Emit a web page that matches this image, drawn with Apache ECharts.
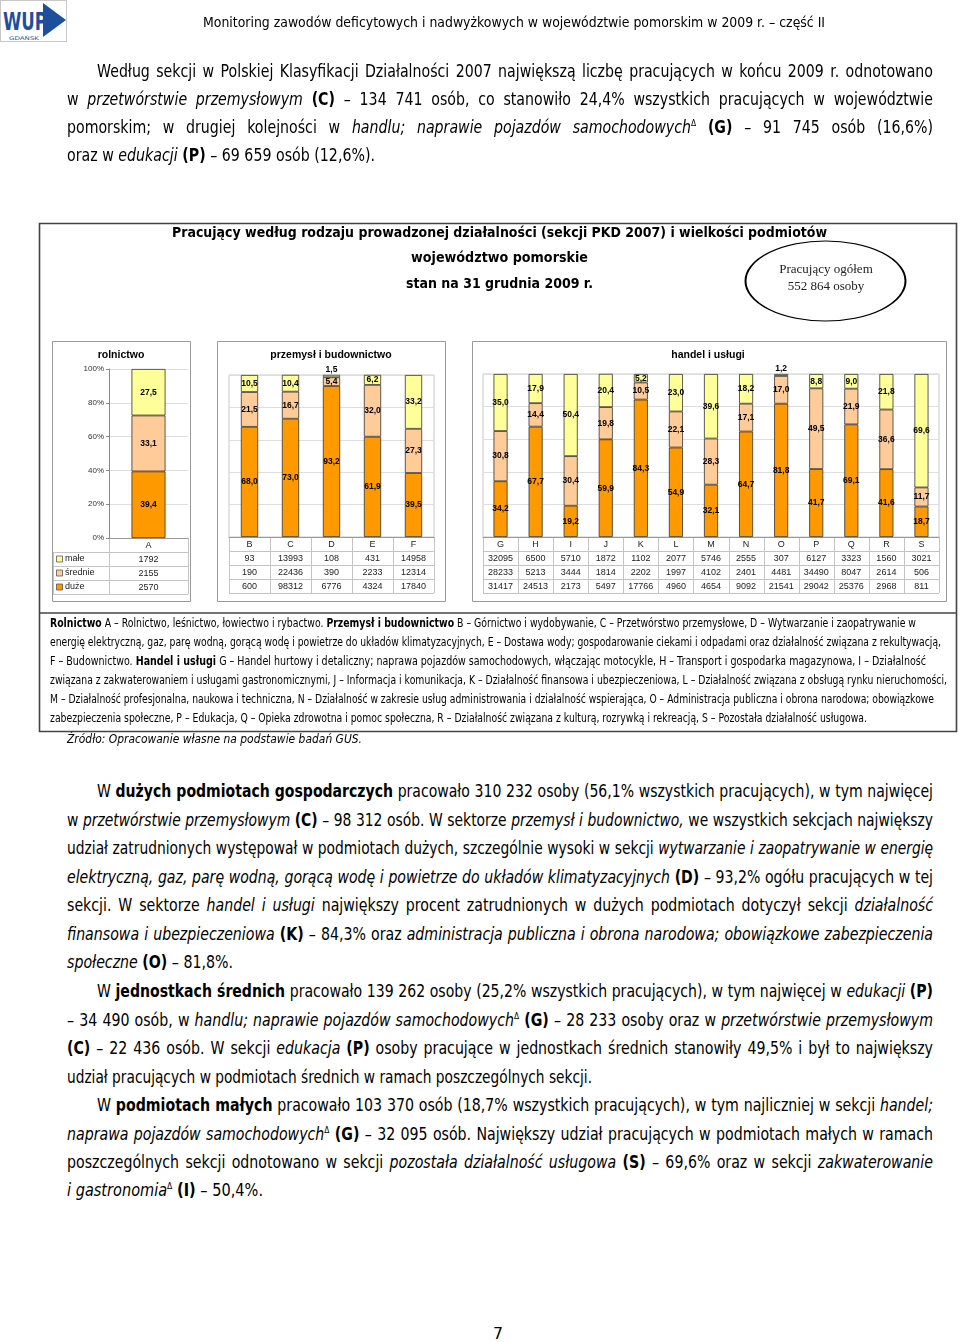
<!DOCTYPE html>
<html><head><meta charset="utf-8">
<script src="https://cdn.jsdelivr.net/npm/echarts@6/dist/echarts.min.js"></script>
<style>
body{margin:0;background:#fff;}
#page{position:relative;width:960px;height:1342px;overflow:hidden;background:#fff;}
.ln{position:absolute;white-space:nowrap;font-family:'DejaVu Sans',sans-serif;color:#000;transform-origin:0 50%;display:inline-block;}
.ln sup{font-size:9px;line-height:0;}
#chart{position:absolute;left:0;top:0;width:960px;height:760px;}
</style></head>
<body><div id="page">
<svg style="position:absolute;left:0;top:0" width="68" height="43">
<rect x="0.5" y="0.5" width="66" height="41" fill="#fff" stroke="#c8c8c8"/>
<polygon points="43,3 66,20 43,37" fill="#1e4f9e"/>
<text x="3" y="30" font-family="DejaVu Sans" font-weight="bold" font-size="24" fill="#1e4f9e" textLength="44" lengthAdjust="spacingAndGlyphs">WUP</text>
<text x="9" y="40" font-family="DejaVu Sans" font-size="5" fill="#1e4f9e" textLength="30" lengthAdjust="spacingAndGlyphs">GDAŃSK</text>
</svg>
<div id="chart"></div>
</div>
<script>
// ---------- DATA ----------
const sizeNames = ['małe', 'średnie', 'duże'];
const yTicks = [0, 20, 40, 60, 80, 100];

const sectorsRol = ['A'];
const maleRol = [27.5];
const sredRol = [33.1];
const duzeRol = [39.4];
const nMaleRol = [1792];
const nSredRol = [2155];
const nDuzeRol = [2570];

const sectorsPrz = ['B', 'C', 'D', 'E', 'F'];
const malePrz = [10.5, 10.4, 1.5, 6.2, 33.2];
const sredPrz = [21.5, 16.7, 5.4, 32.0, 27.3];
const duzePrz = [68.0, 73.0, 93.2, 61.9, 39.5];
const nMalePrz = [93, 13993, 108, 431, 14958];
const nSredPrz = [190, 22436, 390, 2233, 12314];
const nDuzePrz = [600, 98312, 6776, 4324, 17840];

const sectorsHan = ['G', 'H', 'I', 'J', 'K', 'L', 'M', 'N', 'O', 'P', 'Q', 'R', 'S'];
const maleHan = [35.0, 17.9, 50.4, 20.4, 5.2, 23.0, 39.6, 18.2, 1.2, 8.8, 9.0, 21.8, 69.6];
const sredHan = [30.8, 14.4, 30.4, 19.8, 10.5, 22.1, 28.3, 17.1, 17.0, 49.5, 21.9, 36.6, 11.7];
const duzeHan = [34.2, 67.7, 19.2, 59.9, 84.3, 54.9, 32.1, 64.7, 81.8, 41.7, 69.1, 41.6, 18.7];
const nMaleHan = [32095, 6500, 5710, 1872, 1102, 2077, 5746, 2555, 307, 6127, 3323, 1560, 3021];
const nSredHan = [28233, 5213, 3444, 1814, 2202, 1997, 4102, 2401, 4481, 34490, 8047, 2614, 506];
const nDuzeHan = [31417, 24513, 2173, 5497, 17766, 4960, 4654, 9092, 21541, 29042, 25376, 2968, 811];

const panelTitles = ['rolnictwo', 'przemysł i budownictwo', 'handel i usługi'];
const chartTitle = ['Pracujący według rodzaju prowadzonej działalności (sekcji PKD 2007) i wielkości podmiotów',
  'województwo pomorskie', 'stan na 31 grudnia 2009 r.'];
const totalText = ['Pracujący ogółem', '552 864 osoby'];

// ---------- PAGE TEXT ----------
const J = true;
const textLines = [
 {x:203,y:22,w:622,fs:14,h:'Monitoring zawodów deficytowych i nadwyżkowych w województwie pomorskim w 2009 r. – część II'},
 {x:97,y:71,w:836,fs:17,j:J,h:'Według sekcji w Polskiej Klasyfikacji Działalności 2007 największą liczbę pracujących w końcu 2009 r. odnotowano'},
 {x:67,y:99,w:866,fs:17,j:J,h:'w <i>przetwórstwie przemysłowym</i> <b>(C)</b> – 134 741 osób, co stanowiło 24,4% wszystkich pracujących w województwie'},
 {x:67,y:127,w:866,fs:17,j:J,h:'pomorskim; w drugiej kolejności w <i>handlu; naprawie pojazdów samochodowych</i><sup>Δ</sup> <b>(G)</b> – 91 745 osób (16,6%)'},
 {x:67,y:155,w:308,fs:17,h:'oraz w <i>edukacji</i> <b>(P)</b> – 69 659 osób (12,6%).'},

 {x:50,y:623,w:866,fs:12,h:'<b>Rolnictwo</b> A – Rolnictwo, leśnictwo, łowiectwo i rybactwo. <b>Przemysł i budownictwo</b> B – Górnictwo i wydobywanie, C – Przetwórstwo przemysłowe, D – Wytwarzanie i zaopatrywanie w'},
 {x:50,y:642,w:891,fs:12,h:'energię elektryczną, gaz, parę wodną, gorącą wodę i powietrze do układów klimatyzacyjnych, E – Dostawa wody; gospodarowanie ciekami i odpadami oraz działalność związana z rekultywacją,'},
 {x:50,y:661,w:876,fs:12,h:'F – Budownictwo. <b>Handel i usługi</b> G – Handel hurtowy i detaliczny; naprawa pojazdów samochodowych, włączając motocykle, H – Transport i gospodarka magazynowa, I – Działalność'},
 {x:50,y:680,w:897,fs:12,h:'związana z zakwaterowaniem i usługami gastronomicznymi, J – Informacja i komunikacja, K – Działalność finansowa i ubezpieczeniowa, L – Działalność związana z obsługą rynku nieruchomości,'},
 {x:50,y:699,w:884,fs:12,h:'M – Działalność profesjonalna, naukowa i techniczna, N – Działalność w zakresie usług administrowania i działalność wspierająca, O – Administracja publiczna i obrona narodowa; obowiązkowe'},
 {x:50,y:718,w:817,fs:12,h:'zabezpieczenia społeczne, P – Edukacja, Q – Opieka zdrowotna i pomoc społeczna, R – Działalność związana z kulturą, rozrywką i rekreacją, S – Pozostała działalność usługowa.'},
 {x:67,y:739,w:295,fs:12,h:'<i>Źródło: Opracowanie własne na podstawie badań GUS.</i>'},

 {x:97,y:791,w:836,fs:17,j:J,h:'W <b>dużych podmiotach gospodarczych</b> pracowało 310 232 osoby (56,1% wszystkich pracujących), w tym najwięcej'},
 {x:67,y:820,w:866,fs:17,j:J,h:'w <i>przetwórstwie przemysłowym</i> <b>(C)</b> – 98 312 osób. W sektorze <i>przemysł i budownictwo,</i> we wszystkich sekcjach największy'},
 {x:67,y:848,w:866,fs:17,j:J,h:'udział zatrudnionych występował w podmiotach dużych, szczególnie wysoki w sekcji <i>wytwarzanie i zaopatrywanie w energię</i>'},
 {x:67,y:877,w:866,fs:17,j:J,h:'<i>elektryczną, gaz, parę wodną, gorącą wodę i powietrze do układów klimatyzacyjnych</i> <b>(D)</b> – 93,2% ogółu pracujących w tej'},
 {x:67,y:905,w:866,fs:17,j:J,h:'sekcji. W sektorze <i>handel i usługi</i> największy procent zatrudnionych w dużych podmiotach dotyczył sekcji <i>działalność</i>'},
 {x:67,y:934,w:866,fs:17,j:J,h:'<i>finansowa i ubezpieczeniowa</i> <b>(K)</b> – 84,3% oraz <i>administracja publiczna i obrona narodowa; obowiązkowe zabezpieczenia</i>'},
 {x:67,y:962,w:166,fs:17,h:'<i>społeczne</i> <b>(O)</b> – 81,8%.'},

 {x:97,y:991,w:836,fs:17,j:J,h:'W <b>jednostkach średnich</b> pracowało 139 262 osoby (25,2% wszystkich pracujących), w tym najwięcej w <i>edukacji</i> <b>(P)</b>'},
 {x:67,y:1020,w:866,fs:17,j:J,h:'– 34 490 osób, w <i>handlu; naprawie pojazdów samochodowych</i><sup>Δ</sup> <b>(G)</b> – 28 233 osoby oraz w <i>przetwórstwie przemysłowym</i>'},
 {x:67,y:1048,w:866,fs:17,j:J,h:'<b>(C)</b> – 22 436 osób. W sekcji <i>edukacja</i> <b>(P)</b> osoby pracujące w jednostkach średnich stanowiły 49,5% i był to największy'},
 {x:67,y:1077,w:525,fs:17,h:'udział pracujących w podmiotach średnich w ramach poszczególnych sekcji.'},

 {x:97,y:1105,w:836,fs:17,j:J,h:'W <b>podmiotach małych</b> pracowało 103 370 osób (18,7% wszystkich pracujących), w tym najliczniej w sekcji <i>handel;</i>'},
 {x:67,y:1134,w:866,fs:17,j:J,h:'<i>naprawa pojazdów samochodowych</i><sup>Δ</sup> <b>(G)</b> – 32 095 osób. Największy udział pracujących w podmiotach małych w ramach'},
 {x:67,y:1162,w:866,fs:17,j:J,h:'poszczególnych sekcji odnotowano w sekcji <i>pozostała działalność usługowa</i> <b>(S)</b> – 69,6% oraz w sekcji <i>zakwaterowanie</i>'},
 {x:67,y:1190,w:196,fs:17,h:'<i>i gastronomia</i><sup>Δ</sup> <b>(I)</b> – 50,4%.'},
 {x:493,y:1334,w:10,fs:16,h:'7'}
];

(function renderText(){
  const page = document.getElementById('page');
  const els = textLines.map(t => {
    const d = document.createElement('div');
    d.className = 'ln';
    d.style.fontSize = t.fs + 'px';
    d.style.lineHeight = (t.fs + 4) + 'px';
    d.style.left = t.x + 'px';
    d.style.top = (t.y - (t.fs + 4) / 2) + 'px';
    d.innerHTML = t.h;
    page.appendChild(d);
    return d;
  });
  const nat = els.map(e => e.getBoundingClientRect().width);
  let sum = 0, cnt = 0;
  textLines.forEach((t, i) => { if (!t.j && t.fs === 17 && t.w > 100) { sum += t.w / nat[i]; cnt++; } });
  const sAvg = cnt ? sum / cnt : 0.8;
  textLines.forEach((t, i) => {
    const e = els[i];
    if (t.j) {
      const s = Math.min(sAvg, t.w / (nat[i] + 3));
      e.style.display = 'block';
      e.style.whiteSpace = 'normal';
      e.style.width = (t.w / s) + 'px';
      e.style.textAlign = 'justify';
      e.style.textAlignLast = 'justify';
      e.style.transform = 'scaleX(' + s + ')';
    } else {
      e.style.transform = 'scaleX(' + (t.w / nat[i]) + ')';
    }
  });
})();

// ---------- CHART ----------
const C_MALE = '#FFFF99', C_SRED = '#FFCC99', C_DUZE = '#FF9900';
const fmt = v => v.toFixed(1).replace('.', ',');

const panels = [
  {cats: sectorsRol, male: maleRol, sred: sredRol, duze: duzeRol, n: [nMaleRol, nSredRol, nDuzeRol],
   box: [52, 341, 190, 601], grid: {left: 109, top: 369, width: 79, height: 169}, barW: '43%', tx: 121, yLab: true},
  {cats: sectorsPrz, male: malePrz, sred: sredPrz, duze: duzePrz, n: [nMalePrz, nSredPrz, nDuzePrz],
   box: [217, 341, 445, 601], grid: {left: 229, top: 375, width: 205, height: 162}, barW: '42%', tx: 331},
  {cats: sectorsHan, male: maleHan, sred: sredHan, duze: duzeHan, n: [nMaleHan, nSredHan, nDuzeHan],
   box: [472, 341, 946, 601], grid: {left: 483, top: 374, width: 456, height: 163}, barW: '40%', tx: 708}
];

const mctx = document.createElement('canvas').getContext('2d');
function textScale(str, font, target) { mctx.font = font; return target / mctx.measureText(str).width; }

const graphics = [];
graphics.push({type: 'rect', shape: {x: 39.5, y: 223.5, width: 917, height: 508}, style: {fill: 'none', stroke: '#444', lineWidth: 1.6}});
graphics.push({type: 'line', shape: {x1: 39.5, y1: 613, x2: 956.5, y2: 613}, style: {stroke: '#444', lineWidth: 1.4}});
const titleY = [233, 258, 284], titleW = [655, 177, 187], titleX = [499.5, 499.5, 499.5];
chartTitle.forEach((s, i) => {
  const font = 'bold 14px "DejaVu Sans"';
  graphics.push({type: 'text', x: titleX[i], y: titleY[i], scaleX: textScale(s, font, titleW[i]),
    style: {text: s, font: font, fill: '#000', textAlign: 'center', textVerticalAlign: 'middle', verticalAlign: 'middle'}});
});
graphics.push({type: 'circle', x: 825.5, y: 281, scaleX: 2, shape: {cx: 0, cy: 0, r: 40}, style: {fill: 'none', stroke: '#000', lineWidth: 1}});
totalText.forEach((s, i) => {
  graphics.push({type: 'text', x: 826, y: [270, 287][i],
    style: {text: s, font: '13px "Liberation Serif", serif', fill: '#222', textAlign: 'center', textVerticalAlign: 'middle', verticalAlign: 'middle'}});
});

const grids = [], xAxes = [], yAxes = [], series = [];
const colors = [C_MALE, C_SRED, C_DUZE];
panels.forEach((p, i) => {
  const [bx1, by1, bx2, by2] = p.box;
  graphics.push({type: 'rect', shape: {x: bx1 + 0.5, y: by1 + 0.5, width: bx2 - bx1, height: by2 - by1}, style: {fill: 'none', stroke: '#9a9a9a', lineWidth: 1}});
  graphics.push({type: 'text', x: p.tx, y: 355, style: {text: panelTitles[i], font: 'bold 10.5px Arial, "Liberation Sans"', fill: '#000', textAlign: 'center', textVerticalAlign: 'middle', verticalAlign: 'middle'}});
  grids.push({left: p.grid.left, top: p.grid.top, width: p.grid.width, height: p.grid.height,
    show: i > 0, borderColor: '#c8c8c8', borderWidth: 1, backgroundColor: 'transparent', containLabel: false});
  xAxes.push({type: 'category', gridIndex: i, data: p.cats,
    axisLine: {show: true, lineStyle: {color: '#999', width: 1}}, axisTick: {show: false},
    axisLabel: {fontSize: 9, fontFamily: 'Arial', color: '#222', margin: 3}});
  yAxes.push({type: 'value', gridIndex: i, min: yTicks[0], max: yTicks[yTicks.length - 1], interval: yTicks[1] - yTicks[0],
    axisLine: {show: !!p.yLab, lineStyle: {color: '#888'}}, axisTick: {show: !!p.yLab, length: 3, lineStyle: {color: '#888'}},
    axisLabel: {show: !!p.yLab, fontSize: 8, fontFamily: 'Arial', color: '#333', margin: 5, formatter: v => v + '%'},
    splitLine: {show: true, lineStyle: {color: '#dedede', width: 1}}});
  const mk = (name, arr, color) => ({
    type: 'bar', name: name, xAxisIndex: i, yAxisIndex: i, stack: 'st' + i, barWidth: p.barW,
    data: arr.map(v => v < 3 ? {value: v, label: {position: 'top', distance: 1}} : v),
    itemStyle: {color: color, borderColor: '#333', borderWidth: 0.8},
    label: {show: true, position: 'inside', fontSize: 8.5, fontWeight: 'bold', fontFamily: 'Arial', color: '#000', formatter: q => fmt(q.value)},
    emphasis: {disabled: true}, silent: true
  });
  series.push(mk(sizeNames[2], p.duze, C_DUZE), mk(sizeNames[1], p.sred, C_SRED), mk(sizeNames[0], p.male, C_MALE));

  const xL = p.grid.left, xR = p.grid.left + p.grid.width, yT = p.grid.top + p.grid.height, rh = 14;
  const cw = p.grid.width / p.cats.length;
  const lineSt = {stroke: '#c4c4c4', lineWidth: 1};
  for (let r = 0; r <= 4; r++) {
    const y = Math.round(yT + r * rh) + 0.5;
    const x0 = (i === 0 && r > 0) ? 53 : xL;
    graphics.push({type: 'line', shape: {x1: x0, y1: y, x2: xR, y2: y}, style: lineSt});
  }
  for (let k = 0; k <= p.cats.length; k++) {
    const x = Math.round(xL + k * cw) + 0.5;
    graphics.push({type: 'line', shape: {x1: x, y1: yT, x2: x, y2: yT + 4 * rh}, style: lineSt});
  }
  if (i === 0) {
    graphics.push({type: 'line', shape: {x1: 53.5, y1: yT + rh, x2: 53.5, y2: yT + 4 * rh}, style: lineSt});
    sizeNames.forEach((nm, r) => {
      const cy = yT + (r + 1) * rh + rh / 2;
      graphics.push({type: 'rect', shape: {x: 56.5, y: cy - 3, width: 6, height: 6}, style: {fill: colors[r], stroke: '#444', lineWidth: 0.7}});
      graphics.push({type: 'text', x: 65, y: cy, style: {text: nm, font: '9px Arial', fill: '#222', textAlign: 'left', textVerticalAlign: 'middle', verticalAlign: 'middle'}});
    });
  }
  p.n.forEach((row, r) => {
    row.forEach((v, c) => {
      graphics.push({type: 'text', x: xL + (c + 0.5) * cw, y: yT + (r + 1) * rh + rh / 2 + 0.5,
        style: {text: String(v), font: '9px Arial', fill: '#222', textAlign: 'center', textVerticalAlign: 'middle', verticalAlign: 'middle'}});
    });
  });
});

const chart = echarts.init(document.getElementById('chart'), null, {renderer: 'canvas'});
chart.setOption({
  animation: false,
  backgroundColor: 'transparent',
  grid: grids, xAxis: xAxes, yAxis: yAxes, series: series,
  graphic: {elements: graphics}
});
</script>
</body></html>
